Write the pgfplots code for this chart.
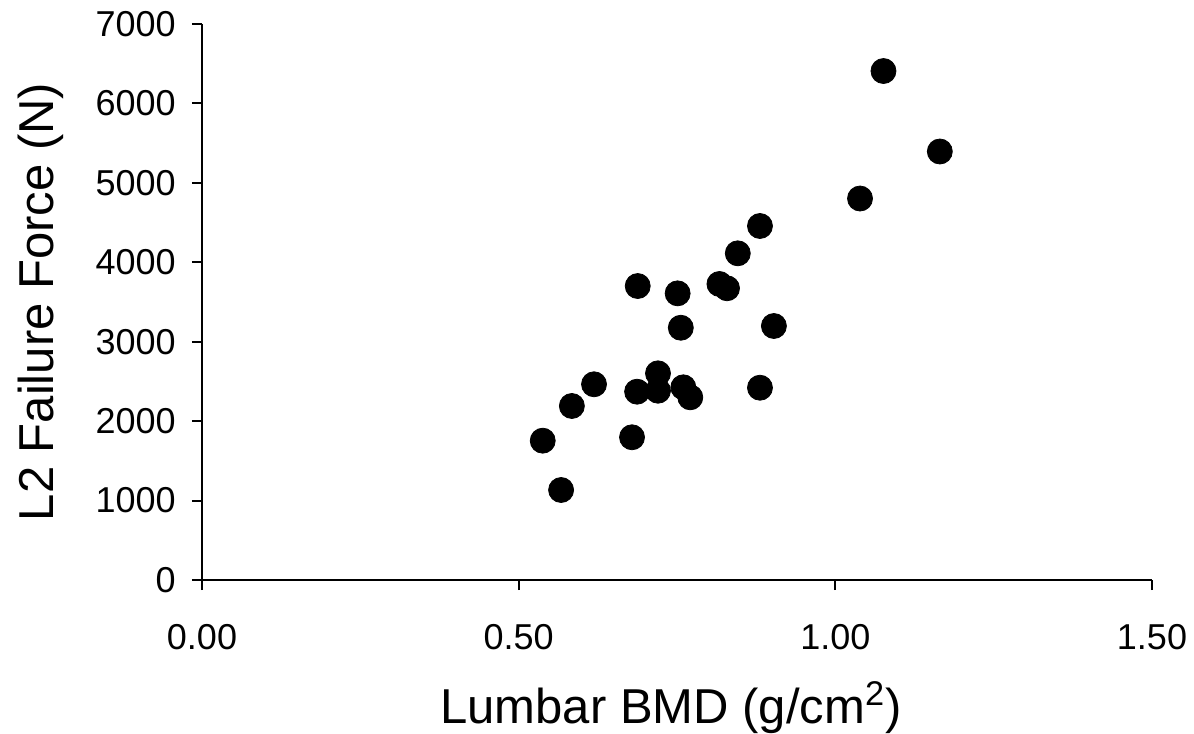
\documentclass[border=0pt]{standalone}
\usepackage{fontspec}
\setmainfont{Liberation Sans}
\usepackage{pgfplots}
\pgfplotsset{compat=1.18}

\begin{document}
\begin{tikzpicture}
\begin{axis}[
    scale only axis,
    width=475bp, height=278bp,
    xmin=0, xmax=1.5, ymin=0, ymax=7000,
    xtick={0,0.5,1,1.5},
    ytick={0,1000,2000,3000,4000,5000,6000,7000},
    axis lines=left,
    axis line style={line width=1bp, -},
    every tick/.style={line width=1bp, black},
    tick align=outside,
    major tick length=5bp,
    /pgf/number format/assume math mode=true,
    xticklabel style={/pgf/number format/fixed, /pgf/number format/fixed zerofill,
        /pgf/number format/precision=2, font=\fontsize{18bp}{20bp}\selectfont,
        inner sep=0pt, anchor=north},
    yticklabel style={/pgf/number format/1000 sep={}, font=\fontsize{18bp}{20bp}\selectfont,
        inner sep=0pt, anchor=east},
    xticklabel shift=17bp,
    yticklabel shift=8bp,
    scaled x ticks=false, scaled y ticks=false,
    xlabel={Lumbar BMD (g/cm\textsuperscript{2})},
    ylabel={L2 Failure Force (N)},
    label style={font=\fontsize{24.5bp}{28bp}\selectfont, inner sep=0pt},
    xlabel style={at={(axis description cs:0.4937,-0.2572)}, anchor=base},
    ylabel style={at={(axis description cs:-0.1568,0.5)}, anchor=base},
    clip=false,
]
\addplot[only marks, mark=*, mark size=6.25bp, black] coordinates {
    (1.076,6408) (1.165,5395) (1.039,4803) (0.881,4457) (0.846,4113)
    (0.688,3701) (0.751,3609) (0.817,3727) (0.829,3673) (0.756,3176)
    (0.903,3198) (0.720,2602) (0.619,2464) (0.687,2371) (0.720,2383)
    (0.760,2426) (0.771,2300) (0.881,2421) (0.584,2191) (0.538,1754)
    (0.679,1797) (0.567,1133)
};
\end{axis}
\pgfresetboundingbox
\path[use as bounding box] ([shift={(-101bp,-77bp)}]current axis.south west)
    rectangle ([shift={(496bp,290bp)}]current axis.south west);
\end{tikzpicture}
\end{document}
